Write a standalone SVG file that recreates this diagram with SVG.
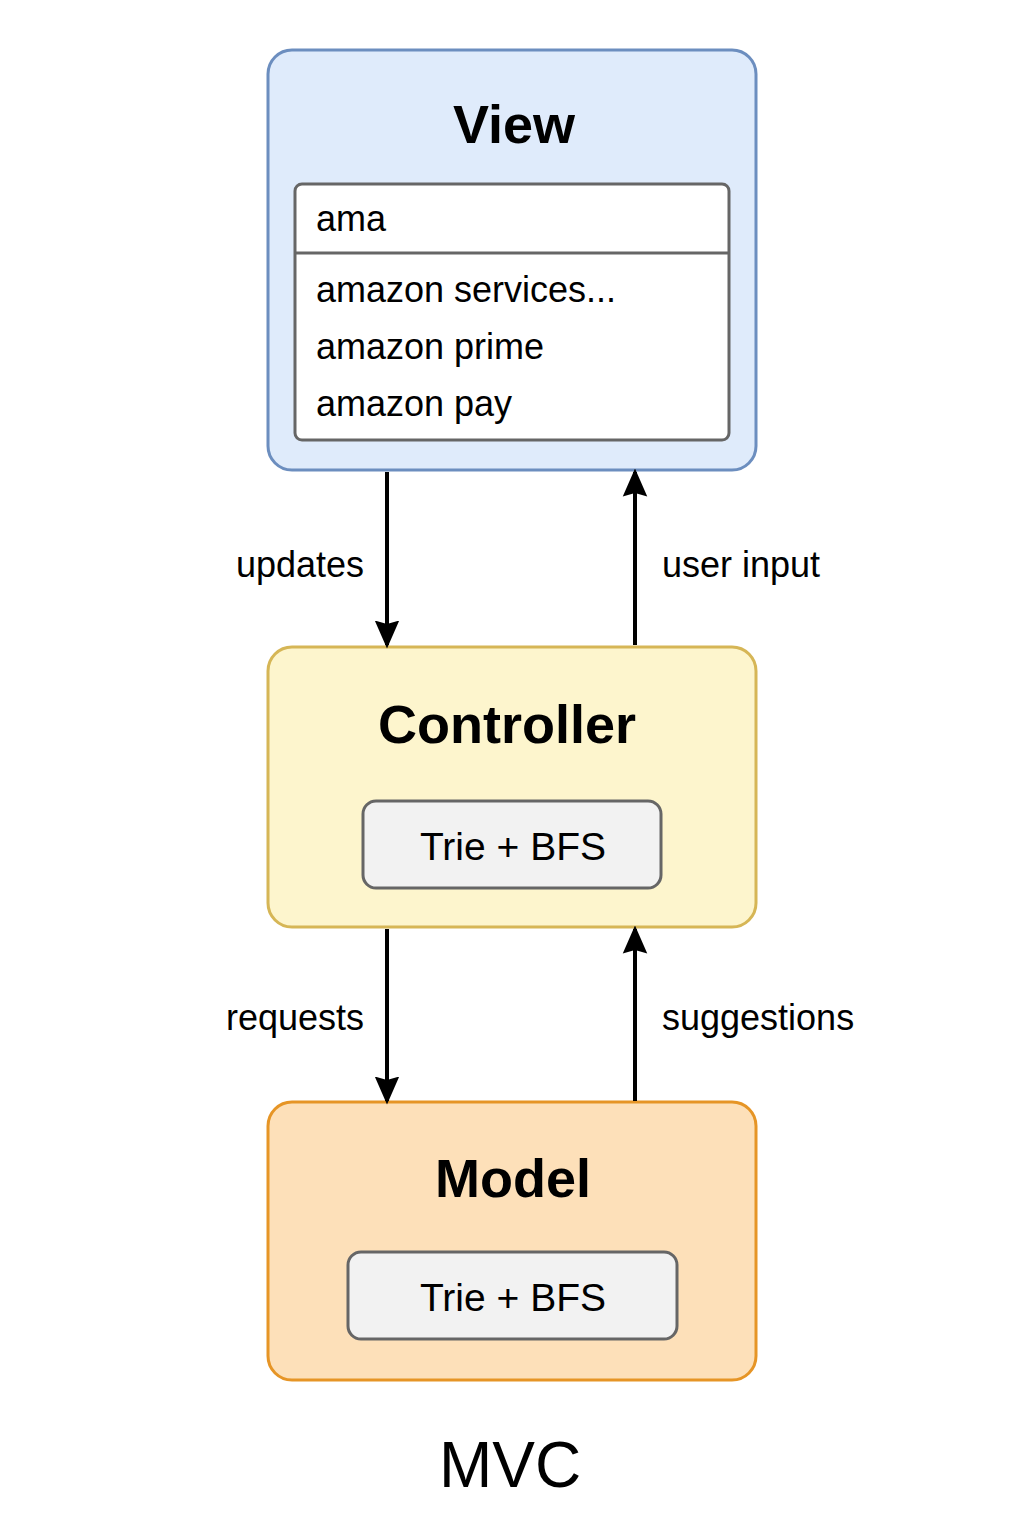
<svg xmlns="http://www.w3.org/2000/svg" width="1024" height="1536" viewBox="0 0 1024 1536">
<style>
text{font-family:"Liberation Sans",Arial,sans-serif;fill:#000}
.title{font-size:54px;font-weight:bold;text-anchor:middle}
.item{font-size:36px}
.algo{font-size:39px;text-anchor:middle}
.lbl{font-size:36px}
.inner{fill:#f2f2f2;stroke:#666;stroke-width:3}
.edge{stroke:#000;stroke-width:4;fill:none;marker-end:url(#ah)}
</style>
<defs>
<marker id="ah" markerWidth="28" markerHeight="32" refX="28" refY="14" orient="auto" markerUnits="userSpaceOnUse" viewBox="0 0 32 28">
<path d="M0,0 L32,14 L0,28 L4,14 Z" fill="#000"/>
</marker>
</defs>
<rect width="1024" height="1536" fill="#fff"/>
<g id="view">
<rect x="268" y="50" width="488" height="420" rx="24" fill="#dfebfb" stroke="#6c8ebf" stroke-width="3"/>
<text class="title" x="514" y="143">View</text>
<rect x="295" y="184" width="434" height="256" rx="7" fill="#fff" stroke="#666" stroke-width="3"/>
<line x1="295" y1="253" x2="729" y2="253" stroke="#666" stroke-width="3"/>
<text class="item" x="316" y="231">ama</text>
<text class="item" x="316" y="302">amazon services...</text>
<text class="item" x="316" y="359">amazon prime</text>
<text class="item" x="316" y="416">amazon pay</text>
</g>
<g id="controller">
<rect x="268" y="647" width="488" height="280" rx="24" fill="#fdf5cd" stroke="#d6b656" stroke-width="3"/>
<text class="title" x="507" y="743">Controller</text>
<rect class="inner" x="363" y="801" width="298" height="87" rx="13"/>
<text class="algo" x="513" y="860">Trie + BFS</text>
</g>
<g id="model">
<rect x="268" y="1102" width="488" height="278" rx="24" fill="#fde0b9" stroke="#e69526" stroke-width="3"/>
<text class="title" x="513" y="1197">Model</text>
<rect class="inner" x="348" y="1252" width="329" height="87" rx="13"/>
<text class="algo" x="513" y="1311">Trie + BFS</text>
</g>
<g id="connectors">
<line class="edge" x1="387" y1="472" x2="387" y2="645"/>
<line class="edge" x1="635" y1="645" x2="635" y2="472"/>
<line class="edge" x1="387" y1="929" x2="387" y2="1101"/>
<line class="edge" x1="635" y1="1101" x2="635" y2="929"/>
<text class="lbl" x="364" y="577" text-anchor="end">updates</text>
<text class="lbl" x="662" y="577">user input</text>
<text class="lbl" x="364" y="1030" text-anchor="end">requests</text>
<text class="lbl" x="662" y="1030">suggestions</text>
</g>
<text x="510" y="1487" font-size="64" text-anchor="middle">MVC</text>
</svg>
